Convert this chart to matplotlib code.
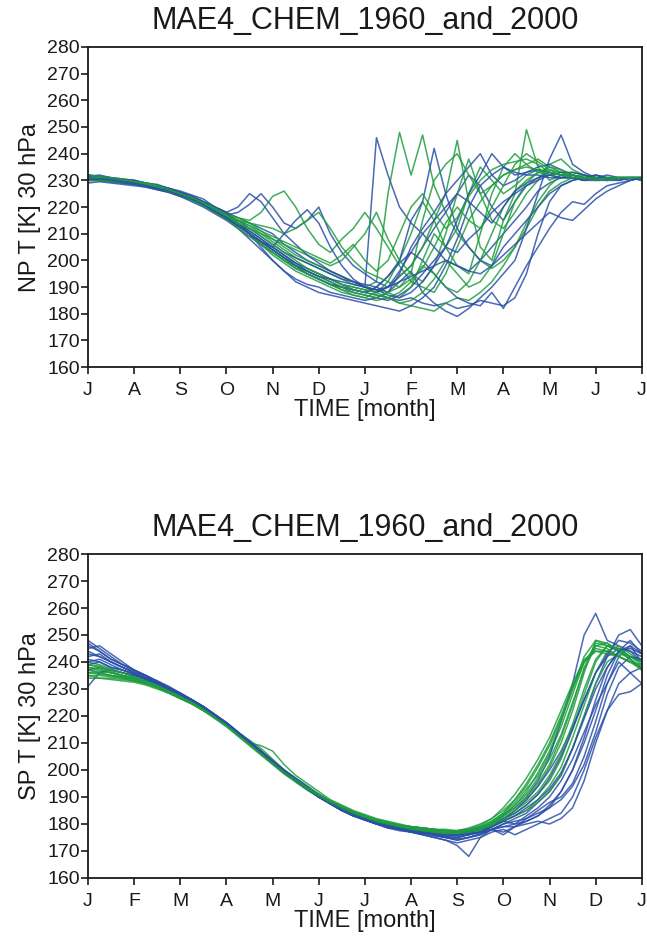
import numpy as np
import matplotlib
matplotlib.use("Agg")
import matplotlib.pyplot as plt
from matplotlib import font_manager

# ---------------- data ----------------
title = "MAE4_CHEM_1960_and_2000"
np_months = ["J", "A", "S", "O", "N", "D", "J", "F", "M", "A", "M", "J", "J"]
sp_months = ["J", "F", "M", "A", "M", "J", "J", "A", "S", "O", "N", "D", "J"]
yticks = [160, 170, 180, 190, 200, 210, 220, 230, 240, 250, 260, 270, 280]
# time in months, sampled every quarter month (49 points)
t = [i * 0.25 for i in range(49)]

np_blue = [
    [231,231,230,230,229.5,229,228,227,225.5,224,222,220,217,
     214,211,208,205,202,199,197,195,193,191,189,188,
     187,186,185,186,184,183,184,182,183,185,184,183,
     186,195,210,222,228,230,231,232,231,231,230,231],
    [232,231.5,231,230,230,229,228.5,227,226,224.5,223,220,218,
     216,214,212,210,206,203,200,198,196,194,192,190,
     246,232,220,214,210,205,200,198,196,200,205,210,
     215,220,226,229,231,232,231,230,231,231,231,231],
    [230,230.5,230,229.5,229,228.5,227.5,226.5,225,223,221,219,217,
     218,221,225,220,214,212,215,220,210,203,198,195,
     192,190,194,198,205,212,218,225,232,228,220,215,
     222,228,231,233,232,231,230,231,232,231,231,231],
    [231,230.5,230,230,229.5,228.5,227.5,226,224.5,223,221,218.5,216,
     213,210,207,204,201,198,195,193,191,190,188,187,
     186,188,192,196,188,184,181,179,182,186,190,195,
     200,212,225,238,247,236,233,231,230,231,231,230],
    [230,230,229.5,229,228.5,228,227,226,224.5,223,221.5,219,216.5,
     214,211,208,205,202,199,196,194,192,190,189,188,
     190,194,199,203,200,195,190,186,184,183,188,182,
     190,198,205,212,218,222,221,225,228,229,230,231],
    [231,231,230.5,230,229.5,228.5,227.5,226.5,225,223.5,221.5,219,217,
     215,212,209,206,203,201,199,197,195,193,192,191,
     190,194,200,215,222,242,225,212,205,200,198,205,
     210,215,220,225,228,230,231,231,230,231,231,231],
    [229,229.5,229,228.5,228,227.5,226.5,225.5,224,222,220,217.5,215,
     212,209,206,203,200,197,195,193,191,190,189,188,
     190,188,195,205,212,218,225,230,235,240,232,228,
     230,233,235,236,234,232,231,230,230,231,231,230],
    [232,231.5,231,230.5,230,229,228,227,225.5,224,222,220,218,
     214,210,205,200,196,193,191,190,188,187,186,185,
     186,185,187,190,195,200,205,203,208,212,218,222,
     225,228,230,232,233,233,232,231,230,230,231,231],
    [231.5,232,231,230.5,230,229,228,227,225.5,224,222,220,218,
     220,225,222,216,210,206,202,199,196,194,192,190,
     189,187,186,188,192,198,205,215,225,232,240,235,
     232,233,234,233,232,231,231,232,231,230,231,231],
    [230,230,229.5,229,228.5,227.5,226.5,225.5,224,222.5,220.5,218,215.5,
     212,208,204,200,196,192,190,188,187,186,185,184,
     183,182,181,183,186,190,198,208,220,228,232,235,
     233,232,232,231,231,231,230,230,231,231,231,231],
    [231,230.5,230.5,230,229,228,227,226,224.5,223,221,218.5,216,
     213,210,207,205,210,215,219,214,205,198,193,190,
     188,190,196,203,210,215,220,225,222,218,214,220,
     226,229,231,232,231,231,230,231,231,231,231,231],
    [230.5,230.5,230,229.5,229,228,227,226,224.5,223,221,218.5,216,
     213,210,207,204,201,198,196,194,193,192,191,190,
     189,190,192,194,196,198,200,198,196,195,198,202,
     206,210,214,218,216,215,219,223,226,228,230,231],
]
np_green = [
    [231,230.5,230,230,229.5,228.5,227.5,226.5,225,223.5,221.5,219,217,
     215,213,210,207,204,201,199,197,195,193,191,190,
     192,225,248,232,247,228,218,210,205,200,197,200,
     205,212,220,226,229,231,232,231,230,231,231,231],
    [230.5,230.5,230,229.5,229,228.5,227.5,226,224.5,223,221,219,217,
     216,215,218,224,226,220,212,206,203,208,212,218,
     212,205,198,192,190,188,195,205,215,222,228,232,
     234,236,238,235,233,232,231,230,231,231,231,231],
    [231,230.5,230,230,229,228.5,227.5,226,224.5,223,221,218.5,216,
     213,210,207,204,201,199,197,195,193,191,190,189,
     188,190,194,198,205,215,225,245,222,205,200,215,
     225,249,235,230,232,232,231,231,230,231,231,231],
    [230,230,229.5,229.5,229,228,227,226,224.5,223,221,218.5,216,
     213,210,207,204,201,198,195,193,191,189,187,186,
     185,186,184,183,182,181,184,186,185,188,192,198,
     205,214,222,228,232,233,232,231,231,231,231,231],
    [231.5,231,230.5,230,229.5,229,228,227,225.5,224,222,220,217.5,
     214,210,206,202,199,196,194,192,190,188,187,186,
     188,192,200,210,222,215,205,212,225,235,230,225,
     228,232,234,233,232,231,231,230,231,231,231,231],
    [231,231,230.5,230,229.5,228.5,227.5,226.5,225,223.5,221.5,219.5,217.5,
     216,214,211,208,206,204,202,200,198,200,205,210,
     218,208,200,195,192,198,210,225,238,225,215,212,
     218,225,230,236,238,234,232,231,230,231,231,231],
    [230,230,229.5,229,228.5,228,227,226,224.5,223,221,219,216.5,
     213,210,206,203,200,198,196,194,192,190,189,188,
     187,186,188,192,198,195,190,188,192,200,210,220,
     226,230,233,234,233,232,231,231,231,230,231,231],
    [231,230.5,230.5,230,229.5,228.5,227.5,226.5,225,223,221,219,216.5,
     214,212,210,208,205,202,200,198,196,194,192,190,
     189,188,186,190,200,210,205,198,195,210,225,235,
     240,236,233,232,231,231,230,231,231,231,231,231],
    [231,231,230.5,230,229.5,229,228,226.5,225,223.5,221.5,219.5,217,
     215,214,213,212,210,212,215,218,212,205,200,196,
     194,192,190,195,215,230,236,240,232,225,228,232,
     234,235,234,233,232,231,231,231,231,231,231,231],
    [230,230,229.5,229.5,229,228,227,226,224.5,222.5,220.5,218,215.5,
     212,209,206,203,200,197,195,193,191,189,188,187,
     186,188,190,193,197,205,214,220,215,212,220,228,
     236,240,237,234,232,231,231,231,231,231,231,231],
    [231,230.5,230,230,229.5,228.5,227.5,226,224.5,223,221,219,216.5,
     214,212,209,206,203,200,197,195,193,191,190,189,
     188,186,184,185,188,193,200,195,190,192,198,210,
     222,229,233,235,234,232,231,231,230,231,231,231],
    [232,231.5,231,230.5,229.5,229,228,226.5,225,223.5,221.5,219.5,217,
     215,213,211,209,207,205,203,201,199,202,206,200,
     196,200,210,220,225,218,212,216,224,230,234,236,
     237,238,236,233,232,231,231,230,231,231,231,231],
]

sp_blue = [
    [244,242,240,238,236,235,232.5,230,228,226,223.5,220.5,217.5,
     214,210.5,207,203,199,196,193,190,187.5,185,183,182,
     180.5,179.5,178,177.5,177,176,175,174,175,176,178,177,
     179,181,183,186,192,200,210,222,235,244,248,243],
    [246,244,241,239,237,235,233,230.5,228.5,226,223,220,217,
     213.5,210,206.5,203,199.5,196,193,190.5,188,185.5,183.5,182,
     180,179,178,177,176,175,174,173,174,175,177,178,
     176,178,180,182,184,190,200,212,222,228,229,232],
    [241,240,238,237,235.5,234,232,230,228,226,223.5,220.5,217.5,
     214,210.5,207,203,199.5,196,193,190,187.5,185,183.5,182,
     180.5,179,178,177.5,177,176.5,176,176,177,178,180,183,
     186,190,196,205,218,232,250,258,248,246,244,240],
    [237,238,237,236,235,233.5,232,230,228,226,223.5,220.5,217.5,
     214,210.5,207,203,199.5,196,193,190,187.5,185,183,181.5,
     180,179,178,177,176,175,174,172,168,175,178,176,
     179,182,185,188,190,195,205,218,232,242,246,240],
    [248,245,242,239,237,235,232.5,230.5,228.5,226,223,220,217,
     213.5,210,206.5,202.5,199,196,193,190.5,188,185.5,183.5,182,
     180.5,179.5,178.5,178,177.5,177,176.5,176,176.5,177,178,180,
     182,184,188,192,198,208,220,232,242,250,252,246],
    [231,236,237,236,235,234,232,230,228,225.5,223,220,217,
     213.5,210,206.5,203,199.5,196,193,190.5,188,185.5,183.5,181.5,
     180,179,178,177.5,177,176,175,175,176,177,179,181,
     180,183,186,190,196,204,214,224,232,240,236,232],
    [240,241,239,237,235.5,234,232,230,228,225.5,223,220,217,
     214,210.5,207,203.5,200,196.5,193.5,190.5,188,185.5,183.5,182,
     180.5,179.5,178.5,177.5,177,176.5,176,176,176.5,177,178,179,
     179,180,181,180,182,186,196,210,222,232,236,238],
    [243,242,240,238,236,234,232,230,228,226,223.5,220.5,217.5,
     214,210.5,207,203,199.5,196,193,190,187.5,185,183,181.5,
     180,178.5,177.5,177,176.5,176,175.5,175,176,177,179,182,
     184,187,191,197,205,215,226,236,242,245,244,242],
    [242,243,240,238,236.5,234.5,232.5,230.5,228,225.5,223,220,217,
     213.5,210,206.5,203,199.5,196,193,190,187.5,185.5,183.5,182,
     180.5,179,178.5,177.5,177,176,175.5,176,177,178,179,181,
     183,186,189,193,199,208,219,230,238,244,246,243],
    [245,246,243,240,237,235,232.5,230,228,225.5,223,220,217,
     213.5,210,206.5,203,199.5,196,193,190,187.5,185,183,181.5,
     180,178.5,178,177,176.5,176,175,174.5,175,176,178,180,
     181,182,184,186,189,194,202,214,228,238,242,241],
    [239,240,238,237,235.5,233.5,232,230,228,226,223.5,220.5,217.5,
     214,210.5,207,203.5,200,197,194,191,188,186,184,182,
     180.5,179.5,178.5,178,177,176.5,176,175.5,176,177,179,182,
     185,189,194,200,207,216,226,236,243,248,247,244],
    [247,244,241,239,237,235,233,231,228.5,226,223,220,217,
     213.5,210,206.5,202.5,199,196,193,190,187.5,185,183,181.5,
     180,179,178,177,176.5,175.5,175,174,175,176.5,178,179,
     180,181,183,187,192,200,212,226,238,244,245,243],
]
sp_green = [
    [238,237,236,235,234,233,231.5,229.5,227.5,225.5,223,220,217,
     213.5,210,206.5,203,199.5,196.5,193.5,190.5,188,186,184,182.5,
     181,180,179,178.5,178,177.5,177,177,177.5,178.5,180,182,
     185,189,194,201,210,222,236,248,246,244,241,238],
    [236,235.5,235,234,233,232,230.5,228.5,226.5,224.5,222,219.5,217,
     214,211,208,204,200,197,194,191,188.5,186.5,184.5,183,
     181.5,180.5,179.5,179,178.5,178,177.5,177.5,178,179,181,184,
     188,193,198,206,216,228,240,245,244,242,240,239],
    [234,234,234,233.5,233,232,230.5,228.5,226.5,224.5,222,219.5,216.5,
     213,210,209,207,202,198,195,192,189,187,185,183.5,
     182,181,180,179,178.5,178,177.5,177,177.5,178.5,180,183,
     186,190,195,202,212,224,238,247,246,244,241,237],
    [240,239,237.5,236,234.5,233,231,229,227,225,222.5,219.5,216.5,
     213,209.5,206,202.5,199,196,193,190,187.5,185.5,183.5,182,
     180.5,179.5,178.5,178,177.5,177,176.5,176.5,177,178,180,183,
     187,192,199,207,218,230,242,248,247,244,242,240],
    [237,236.5,236,235,234,232.5,231,229,227,225,222.5,219.5,216.5,
     213,209.5,206,202.5,199.5,196.5,193.5,190.5,188,186,184,182.5,
     181,180,179,178,177.5,177,176.5,176,176.5,177.5,179,181,
     183,185,188,192,198,208,220,232,240,243,242,240],
    [239,238,236.5,235,234,232.5,231,229,227,225,222.5,220,217,
     213.5,210,206.5,203,199.5,196.5,193.5,191,188.5,186.5,184.5,183,
     181.5,180.5,179.5,179,178.5,178,177.5,177.5,178,179.5,182,186,
     191,197,204,212,222,232,241,244,243,242,240,238],
    [235,235,234.5,234,233,232,230.5,228.5,226.5,224.5,222,219,216,
     212.5,209,205.5,202,198.5,195.5,192.5,190,187.5,185.5,183.5,182,
     180.5,179.5,178.5,178,177.5,177,177,177,177.5,178.5,180,182,
     184,187,191,196,204,215,228,240,246,245,242,240],
    [237,236,235,234.5,233.5,232.5,231,229,227,225,222.5,219.5,216.5,
     213,209.5,206,202.5,199,196,193,190.5,188,186,184,182.5,
     181,180,179,178,177.5,177,176.5,176.5,177,178,179.5,181.5,
     183,185,189,194,201,212,224,236,244,246,243,240],
    [236,236,235,234.5,233.5,232.5,231,229,227,225,222.5,219.5,216.5,
     213,209.5,206,202.5,199.5,196.5,193.5,191,188.5,186.5,184.5,183,
     181.5,180.5,179.5,179,178.5,178,178,177.5,178,179,181,184,
     189,195,202,210,220,231,240,244,244,242,240,238],
    [238,237.5,236,235,234,232.5,231,229,227,225,222.5,219.5,216.5,
     213,209.5,206,202.5,199,196,193,190.5,188,186,184,182.5,
     181,180,179,178.5,178,177.5,177,177,177.5,178.5,180.5,183.5,
     187,191,197,204,213,225,237,246,247,244,241,238],
    [235,234,233.5,233,232.5,231.5,230,228.5,226.5,224.5,222,219.5,216.5,
     213,209.5,206,202.5,199,196,193.5,191,188.5,186.5,184.5,183,
     181.5,180.5,179.5,179,178.5,178,177.5,177.5,178.5,180,182,185,
     189,194,201,209,219,230,240,246,245,242,240,237],
    [239,238.5,237,236,234.5,233,231,229,227,225,222.5,219.5,216.5,
     213,209.5,206,202.5,199,196,193,190.5,188,186,184,182.5,
     181,180,179,178,177.5,177,176.5,176.5,177,178,179.5,182,
     185,188,192,198,206,217,230,241,246,245,242,239],
]

# ---------------- style ----------------
avail = {f.name for f in font_manager.fontManager.ttflist}
fam = "Liberation Sans Narrow" if "Liberation Sans Narrow" in avail else "Liberation Sans"
plt.rcParams["font.family"] = [fam, "DejaVu Sans"]

BLUE = "#2b4fa8"
GREEN = "#1e9e3e"
DARK = "#1a1a1a"

fig = plt.figure(figsize=(6.47, 9.39), dpi=100)
ax1 = fig.add_axes([0.136, 0.609, 0.856, 0.341])
ax2 = fig.add_axes([0.136, 0.065, 0.856, 0.345])


def draw(ax, blues, greens, months, ylabel):
    n = max(len(blues), len(greens))
    for k in range(n):
        if k < len(blues):
            ax.plot(t, blues[k], color=BLUE, lw=1.1, alpha=0.85)
        if k < len(greens):
            ax.plot(t, greens[k], color=GREEN, lw=1.1, alpha=0.85)
    ax.set_xlim(0, 12)
    ax.set_ylim(160, 280)
    ax.set_yticks(yticks)
    ax.set_yticklabels([str(v) for v in yticks], fontsize=14)
    ax.set_xticks(range(13))
    ax.set_xticklabels(months, fontsize=14)
    ax.tick_params(axis="both", direction="out", length=5, width=1.2, color=DARK,
                   labelcolor=DARK)
    ax.tick_params(axis="y", pad=1)
    ax.tick_params(axis="x", pad=6)
    for s in ax.spines.values():
        s.set_linewidth(1.3)
        s.set_color(DARK)
    ax.set_title(title, fontsize=22, pad=13, color=DARK)
    ax.set_xlabel("TIME [month]", fontsize=17, labelpad=0, color=DARK)
    ax.set_ylabel(ylabel, fontsize=17, labelpad=4, color=DARK)


draw(ax1, np_blue, np_green, np_months, "NP T [K] 30 hPa")
draw(ax2, sp_blue, sp_green, sp_months, "SP T [K] 30 hPa")

fig.savefig("out.png", dpi=100)
